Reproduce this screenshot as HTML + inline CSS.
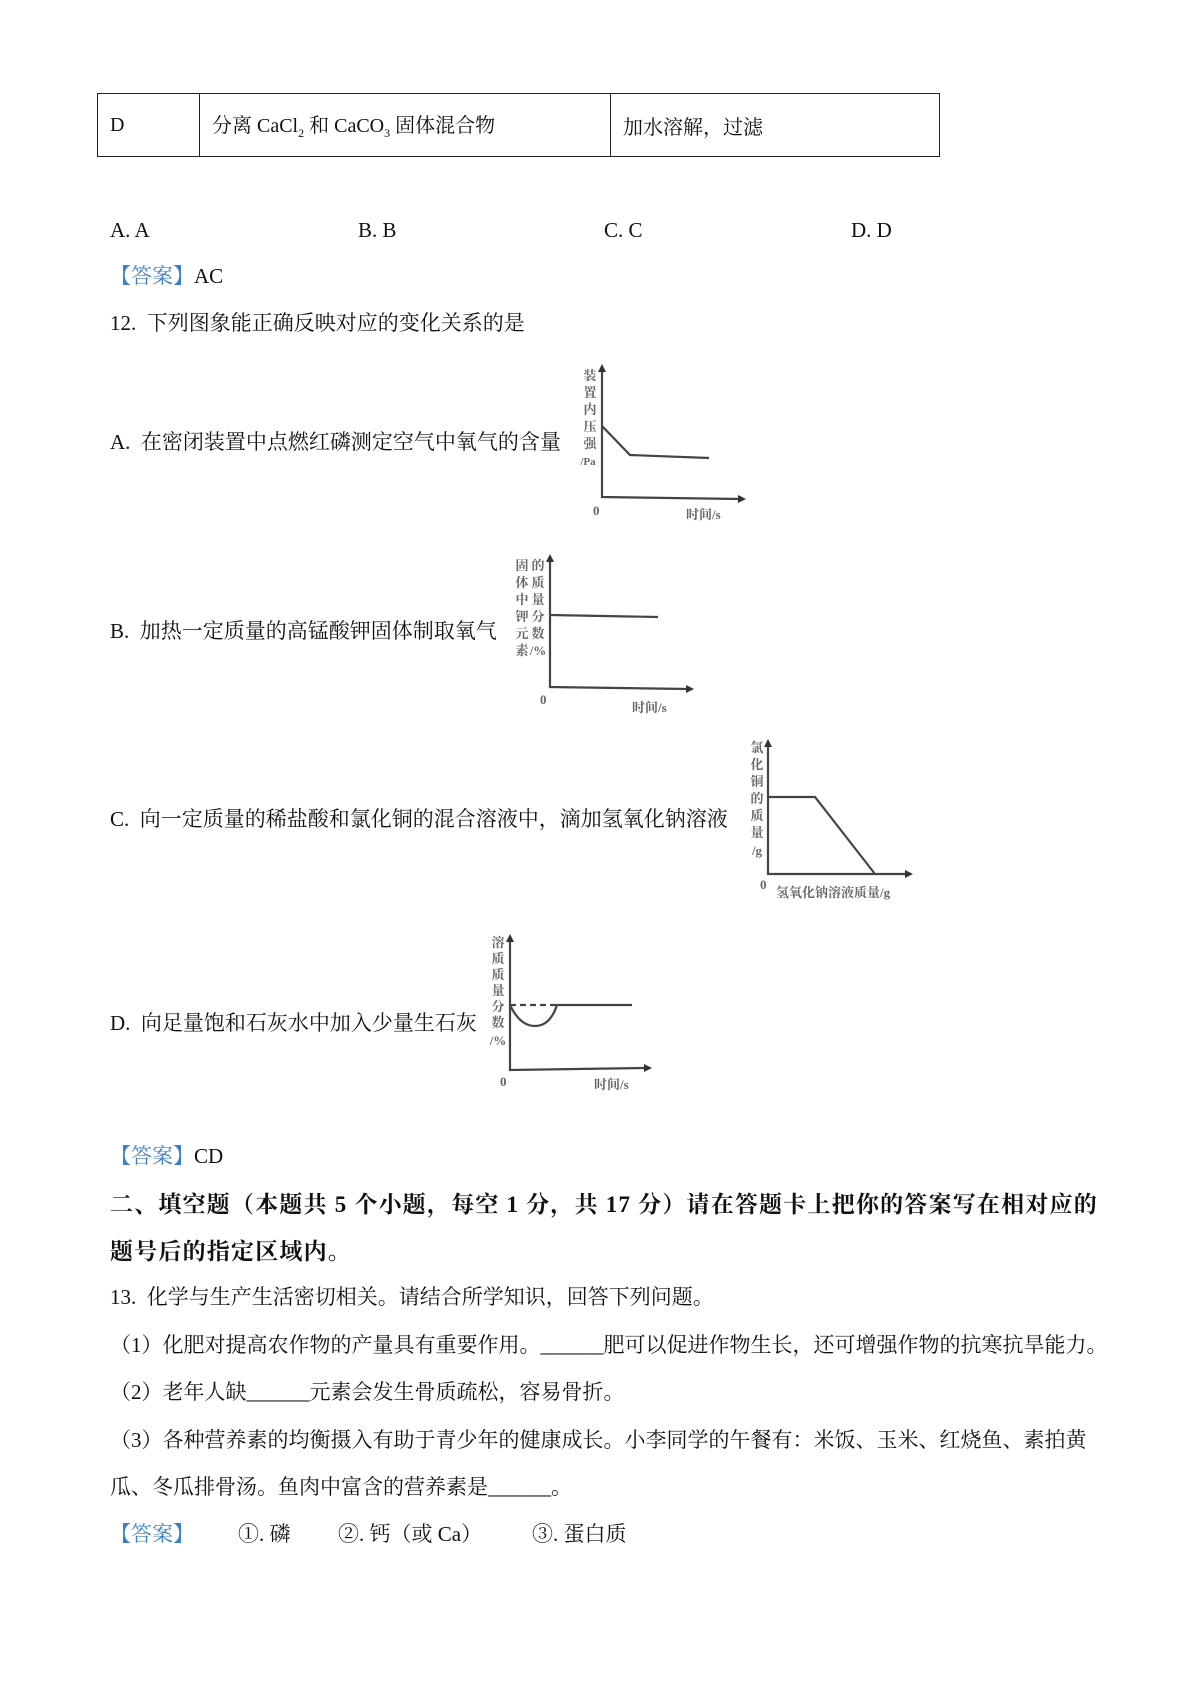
<!DOCTYPE html>
<html><head><meta charset="utf-8"><style>
body{margin:0;background:#fff;width:1200px;height:1698px;position:relative;overflow:hidden;font-family:"Liberation Serif","Noto Serif CJK SC",serif;color:#111}
.t{position:absolute;font-size:21px;white-space:nowrap;line-height:1}
.b{color:#3b7fc4}
table{position:absolute;left:97px;top:93px;border-collapse:collapse}
td{border:1.5px solid #222;height:62px;font-size:20px;padding:0 0 0 12px;vertical-align:middle}
svg{position:absolute;left:0;top:0}
</style></head><body>
<table><tr><td style="width:89px">D</td><td style="width:398px">分离 CaCl<sub style="font-size:12px">2</sub> 和 CaCO<sub style="font-size:12px">3</sub> 固体混合物</td><td style="width:316px">加水溶解，过滤</td></tr></table>
<div class="t" style="left:110px;top:220px">A. A</div>
<div class="t" style="left:358px;top:220px">B. B</div>
<div class="t" style="left:604px;top:220px">C. C</div>
<div class="t" style="left:851px;top:220px">D. D</div>
<div class="t" style="left:110px;top:266px"><span class="b">【答案】</span>AC</div>
<div class="t" style="left:110px;top:313px">12.&nbsp; 下列图象能正确反映对应的变化关系的是</div>
<div class="t" style="left:110px;top:432px">A.&nbsp; 在密闭装置中点燃红磷测定空气中氧气的含量</div>
<div class="t" style="left:110px;top:621px">B.&nbsp; 加热一定质量的高锰酸钾固体制取氧气</div>
<div class="t" style="left:110px;top:809px">C.&nbsp; 向一定质量的稀盐酸和氯化铜的混合溶液中，滴加氢氧化钠溶液</div>
<div class="t" style="left:110px;top:1013px">D.&nbsp; 向足量饱和石灰水中加入少量生石灰</div>
<div class="t" style="left:110px;top:1146px"><span class="b">【答案】</span>CD</div>
<div class="t" style="left:110px;top:1193px;font-weight:bold;font-size:23px;letter-spacing:1.2px">二、填空题（本题共 5 个小题，每空 1 分，共 17 分）请在答题卡上把你的答案写在相对应的</div>
<div class="t" style="left:110px;top:1240px;font-weight:bold;font-size:23px;letter-spacing:1.2px">题号后的指定区域内。</div>
<div class="t" style="left:110px;top:1287px">13.&nbsp; 化学与生产生活密切相关。请结合所学知识，回答下列问题。</div>
<div class="t" style="left:110px;top:1335px">（1）化肥对提高农作物的产量具有重要作用。______肥可以促进作物生长，还可增强作物的抗寒抗旱能力。</div>
<div class="t" style="left:110px;top:1382px">（2）老年人缺______元素会发生骨质疏松，容易骨折。</div>
<div class="t" style="left:110px;top:1430px">（3）各种营养素的均衡摄入有助于青少年的健康成长。小李同学的午餐有：米饭、玉米、红烧鱼、素拍黄</div>
<div class="t" style="left:110px;top:1477px">瓜、冬瓜排骨汤。鱼肉中富含的营养素是______。</div>
<div class="t" style="left:110px;top:1524px"><span class="b">【答案】</span></div>
<div class="t" style="left:238px;top:1524px">①. 磷</div>
<div class="t" style="left:338px;top:1524px">②. 钙（或 Ca）</div>
<div class="t" style="left:532px;top:1524px">③. 蛋白质</div>
<svg width="1200" height="1698" font-family="Liberation Serif,Noto Serif CJK SC,serif" font-size="13" fill="#666">
<g stroke="#444" stroke-width="2.2" fill="none">
<polyline points="602,370 602,497 740,499"/>
<polyline points="602,426 630,455 709,458"/>
<polyline points="550,560 550,687 688,689"/>
<polyline points="550,615 658,617"/>
<polyline points="768,745 768,874 907,874"/>
<polyline points="768,797 815,797 875,874"/>
<polyline points="510,940 510,1070 646,1068"/>
<path d="M510,1005 Q520,1026 535,1026 Q550,1026 557,1005 L632,1005"/>
<path d="M510,1005 L557,1005" stroke-dasharray="6,4"/>
</g>
<g fill="#333"><path d="M602,364 l-4,8 h8z"/><path d="M746,499 l-8,-4 v8z"/><path d="M550,554 l-4,8 h8z"/><path d="M694,689 l-8,-4 v8z"/><path d="M768,739 l-4,8 h8z"/><path d="M913,874 l-8,-4 v8z"/><path d="M510,934 l-4,8 h8z"/><path d="M652,1068 l-8,-4 v8z"/></g>
<g text-anchor="middle" font-weight="bold">
<text x="590" y="380">装</text><text x="590" y="397">置</text><text x="590" y="414">内</text><text x="590" y="431">压</text><text x="590" y="448">强</text><text x="588" y="465" font-size="11">/Pa</text>
<text x="522" y="570">固</text><text x="522" y="587">体</text><text x="522" y="604">中</text><text x="522" y="621">钾</text><text x="522" y="638">元</text><text x="522" y="655">素</text>
<text x="538" y="570">的</text><text x="538" y="587">质</text><text x="538" y="604">量</text><text x="538" y="621">分</text><text x="538" y="638">数</text><text x="538" y="655">/%</text>
<text x="757" y="752">氯</text><text x="757" y="769">化</text><text x="757" y="786">铜</text><text x="757" y="803">的</text><text x="757" y="820">质</text><text x="757" y="837">量</text><text x="757" y="855">/g</text>
<text x="498" y="947">溶</text><text x="498" y="963">质</text><text x="498" y="979">质</text><text x="498" y="995">量</text><text x="498" y="1011">分</text><text x="498" y="1027">数</text><text x="498" y="1045">/%</text>
</g>
<g font-weight="bold">
<text x="593" y="515">0</text><text x="686" y="519">时间/s</text>
<text x="540" y="704">0</text><text x="632" y="712">时间/s</text>
<text x="760" y="889">0</text><text x="776" y="897">氢氧化钠溶液质量/g</text>
<text x="500" y="1086">0</text><text x="594" y="1089">时间/s</text>
</g>
</svg>
</body></html>
